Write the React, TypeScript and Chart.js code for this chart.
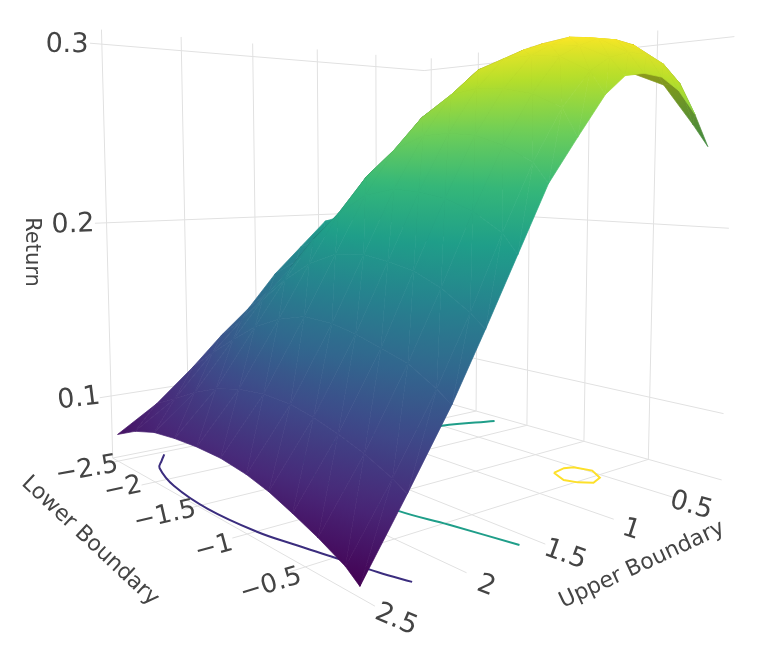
import React, { useEffect, useRef } from "react";
import { Chart, registerables } from "chart.js";

Chart.register(...registerables);

// ---------- data ----------
const LOWER = [-2.5, -2.25, -2, -1.75, -1.5, -1.25, -1, -0.8, -0.6, -0.4, -0.2, -0.1];
const UPPER = [0.12, 0.25, 0.4, 0.55, 0.7, 0.85, 1, 1.2, 1.4, 1.6, 1.8, 2, 2.25, 2.5];
// rows follow UPPER, columns follow LOWER
const RETURN_0 = [0.178, 0.184, 0.192, 0.21, 0.238, 0.268, 0.284, 0.287, 0.284, 0.277, 0.255, 0.243];
const RETURN_1 = [0.187, 0.19, 0.199, 0.2168, 0.2444, 0.2697, 0.287, 0.2933, 0.295, 0.289, 0.276, 0.2596];
const RETURN_2 = [0.193, 0.197, 0.204, 0.2225, 0.2498, 0.2749, 0.292, 0.2983, 0.3, 0.2965, 0.285, 0.271];
const RETURN_3 = [0.196, 0.1995, 0.206, 0.2242, 0.2513, 0.2761, 0.2931, 0.2993, 0.301, 0.298, 0.289, 0.277];
const RETURN_4 = [0.197, 0.2, 0.206, 0.2225, 0.2498, 0.2749, 0.292, 0.2983, 0.3, 0.2975, 0.289, 0.278];
const RETURN_5 = [0.199, 0.2, 0.205, 0.2211, 0.248, 0.2726, 0.2883, 0.2939, 0.295, 0.293, 0.2855, 0.276];
const RETURN_6 = [0.196, 0.198, 0.2035, 0.2202, 0.2479, 0.2701, 0.284, 0.2884, 0.2885, 0.2865, 0.278, 0.2664];
const RETURN_7 = [0.18, 0.187, 0.198, 0.2159, 0.2404, 0.2587, 0.27, 0.272, 0.271, 0.2675, 0.26, 0.246];
const RETURN_8 = [0.164, 0.174, 0.188, 0.2063, 0.2268, 0.241, 0.2481, 0.249, 0.2475, 0.2425, 0.2345, 0.225];
const RETURN_9 = [0.144, 0.157, 0.1736, 0.1914, 0.2069, 0.2173, 0.221, 0.22, 0.2175, 0.212, 0.203, 0.194];
const RETURN_10 = [0.129, 0.141, 0.1559, 0.1696, 0.1805, 0.1873, 0.189, 0.187, 0.184, 0.178, 0.169, 0.163];
const RETURN_11 = [0.112, 0.124, 0.135, 0.1456, 0.1526, 0.157, 0.1565, 0.154, 0.15, 0.146, 0.138, 0.133];
const RETURN_12 = [0.093, 0.1005, 0.1085, 0.115, 0.119, 0.121, 0.1205, 0.118, 0.1145, 0.11, 0.104, 0.1];
const RETURN_13 = [0.079, 0.086, 0.0905, 0.0925, 0.0935, 0.0935, 0.0915, 0.0885, 0.084, 0.079, 0.073, 0.068];
const RETURN_ROWS = [RETURN_0, RETURN_1, RETURN_2, RETURN_3, RETURN_4, RETURN_5, RETURN_6, RETURN_7, RETURN_8, RETURN_9, RETURN_10, RETURN_11, RETURN_12, RETURN_13];

const CONTOUR_LOW_LOWER = [-2.45, -2.34, -2.22, -1.87, -1.43, -1, -0.75, -0.49, -0.25, -0.08];
const CONTOUR_LOW_UPPER = [2.23, 2.3, 2.37, 2.45, 2.48, 2.45, 2.4, 2.34, 2.29, 2.24];
const CONTOUR_MID_LOWER = [-1.72, -1.86, -1.95, -2, -1.8, -1.3, -0.78, -0.47, -0.07];
const CONTOUR_MID_UPPER = [0.14, 0.5, 0.9, 1.3, 1.65, 1.78, 1.75, 1.68, 1.6];
const CONTOUR_TOP_LOWER = [-0.69, -0.71, -0.685, -0.575, -0.464, -0.43, -0.49, -0.567, -0.69];
const CONTOUR_TOP_UPPER = [0.677, 0.568, 0.513, 0.477, 0.544, 0.64, 0.702, 0.732, 0.677];

const Z_TICKS = [0.1, 0.2, 0.3];
const LOWER_TICKS = [-2.5, -2, -1.5, -1, -0.5];
const UPPER_TICKS = [0.5, 1, 1.5, 2, 2.5];
const Z_TICK_TEXT = ["0.1", "0.2", "0.3"];
const LOWER_TICK_TEXT = ["\u22122.5", "\u22122", "\u22121.5", "\u22121", "\u22120.5"];
const UPPER_TICK_TEXT = ["0.5", "1", "1.5", "2", "2.5"];

// ---------- box and camera ----------
const Z_FLOOR = 0.0634;
const Z_TOP = 0.308;
const L_MIN = -2.58;
const L_END = 0;
const U_MIN = 0.05;
const U_END = 2.58;
const U_BOX = 2.5;
const Z_MIN = 0.068;
const Z_MAX = 0.301;
const UNDERSIDE = 0.68;

// [lower, upper, return, screenX, screenY] calibration of the camera
const CAMERA_ANCHORS = [
  [L_MIN, 2.5, Z_FLOOR, 113, 457],
  [L_MIN, 2.5, 0.1, 111, 393],
  [L_MIN, 2.5, 0.2, 108, 222],
  [L_MIN, 2.5, 0.3, 101, 45],
  [L_MIN, 2, Z_FLOOR, 188, 443],
  [L_MIN, 2, 0.3, 181, 51],
  [-2.5, 0.05, Z_FLOOR, 431, 400],
  [-2.5, 0.05, 0.3, 430, 70],
  [-2, 0.05, Z_FLOOR, 476, 412],
  [-1.5, 0.05, Z_FLOOR, 527, 425],
  [-1, 0.05, Z_FLOOR, 585, 442],
  [-0.5, 0.05, Z_FLOOR, 652, 460],
  [-0.5, 0.05, 0.3, 659, 45],
  [0, 0.05, Z_FLOOR, 720, 478],
  [0, 0.05, 0.1, 723, 408],
  [0, 0.05, 0.3, 735, 37],
  [0, 0.5, Z_FLOOR, 670, 498],
  [0, 1, Z_FLOOR, 612, 521],
  [0, 1.5, Z_FLOOR, 545, 545],
  [0, 2, Z_FLOOR, 467, 575],
  [0, 2.5, Z_FLOOR, 377, 608],
];

const nx = (l: number) => (l + 1.3) / 1.3;
const ny = (u: number) => (u - 1.3) / 1.2;
const nz = (z: number) => (z - 0.18) / 0.12;

function solveCamera(): number[] {
  const n = 11;
  const M = Array.from({ length: n }, () => new Array(n + 1).fill(0));
  const add = (row: number[], b: number) => {
    for (let i = 0; i < n; i++) {
      for (let j = 0; j < n; j++) M[i][j] += row[i] * row[j];
      M[i][n] += row[i] * b;
    }
  };
  for (const [l, u, z, sx, sy] of CAMERA_ANCHORS) {
    const X = nx(l), Y = ny(u), Z = nz(z);
    const a = (sx - 380) / 380, b = (sy - 330) / 380;
    add([X, Y, Z, 1, 0, 0, 0, 0, -a * X, -a * Y, -a * Z], a);
    add([0, 0, 0, 0, X, Y, Z, 1, -b * X, -b * Y, -b * Z], b);
  }
  for (let c = 0; c < n; c++) {
    let p = c;
    for (let r = c + 1; r < n; r++) if (Math.abs(M[r][c]) > Math.abs(M[p][c])) p = r;
    [M[c], M[p]] = [M[p], M[c]];
    for (let r = 0; r < n; r++) {
      if (r === c) continue;
      const f = M[r][c] / M[c][c];
      for (let k = c; k <= n; k++) M[r][k] -= f * M[c][k];
    }
  }
  return M.map((row, i) => row[n] / row[i]);
}

const CAM = solveCamera();
function depth(l: number, u: number, z: number) {
  return CAM[8] * nx(l) + CAM[9] * ny(u) + CAM[10] * nz(z) + 1;
}
function project(l: number, u: number, z: number) {
  const X = nx(l), Y = ny(u), Z = nz(z);
  const w = depth(l, u, z);
  return {
    x: ((CAM[0] * X + CAM[1] * Y + CAM[2] * Z + CAM[3]) / w) * 380 + 380,
    y: ((CAM[4] * X + CAM[5] * Y + CAM[6] * Z + CAM[7]) / w) * 380 + 330,
  };
}

// ---------- colour ----------
const VIRIDIS = ["#440154", "#482878", "#3e4989", "#31688e", "#26828e", "#1f9e89", "#35b779", "#6ece58", "#b5de2b", "#fde725"];
const RGB = VIRIDIS.map((h) => [1, 3, 5].map((i) => parseInt(h.slice(i, i + 2), 16)));
function viridis(z: number, shade: number) {
  const t = Math.min(1, Math.max(0, (z - Z_MIN) / (Z_MAX - Z_MIN))) * (RGB.length - 1);
  const i = Math.min(RGB.length - 2, Math.floor(t));
  const f = t - i;
  const c = RGB[i].map((v, k) => Math.round((v + (RGB[i + 1][k] - v) * f) * shade));
  return `rgb(${c[0]},${c[1]},${c[2]})`;
}

type V = { l: number; u: number; z: number };

function triangleDatasets() {
  const tris: { v: V[]; d: number }[] = [];
  for (let j = 0; j < UPPER.length - 1; j++) {
    for (let i = 0; i < LOWER.length - 1; i++) {
      const g = (a: number, b: number): V => ({ l: LOWER[a], u: UPPER[b], z: RETURN_ROWS[b][a] });
      const p = g(i, j), q = g(i + 1, j), r = g(i + 1, j + 1), s = g(i, j + 1);
      for (const v of [[p, q, r], [p, r, s]]) {
        const d = v.reduce((acc, a) => acc + depth(a.l, a.u, a.z), 0) / 3;
        tris.push({ v, d });
      }
    }
  }
  tris.sort((a, b) => b.d - a.d); // farthest first
  return tris.map((t, idx) => {
    const pts = t.v.map((a) => project(a.l, a.u, a.z));
    const fl = t.v.map((a) => project(a.l, a.u, Z_FLOOR));
    const area = (p: { x: number; y: number }[]) =>
      (p[1].x - p[0].x) * (p[2].y - p[0].y) - (p[2].x - p[0].x) * (p[1].y - p[0].y);
    const shade = area(pts) * area(fl) < 0 ? UNDERSIDE : 1;
    const paint = (c: any) => {
      const zs = t.v.map((a) => a.z);
      const lo = zs.indexOf(Math.min(...zs));
      const zLo = zs[lo], zHi = Math.max(...zs);
      const det = area(pts);
      if (zHi - zLo < 1e-6 || Math.abs(det) < 1e-6) return viridis(zLo, shade);
      const dz1 = zs[1] - zs[0], dz2 = zs[2] - zs[0];
      const a = (dz1 * (pts[2].y - pts[0].y) - dz2 * (pts[1].y - pts[0].y)) / det;
      const b = (dz2 * (pts[1].x - pts[0].x) - dz1 * (pts[2].x - pts[0].x)) / det;
      const k = (zHi - zLo) / (a * a + b * b);
      const grad = c.chart.ctx.createLinearGradient(pts[lo].x, pts[lo].y, pts[lo].x + a * k, pts[lo].y + b * k);
      for (let s = 0; s <= 6; s++) grad.addColorStop(s / 6, viridis(zLo + ((zHi - zLo) * s) / 6, shade));
      return grad;
    };
    return {
      type: "line",
      data: [...pts, pts[0]],
      fill: "shape",
      backgroundColor: paint,
      borderColor: paint,
      borderWidth: 0.7,
      pointRadius: 0,
      tension: 0,
      order: tris.length - idx,
    } as any;
  });
}

function gridLine(a: number[], b: number[]) {
  return {
    type: "line",
    data: [project(a[0], a[1], a[2]), project(b[0], b[1], b[2])],
    borderColor: "#e1e1e1",
    borderWidth: 1,
    pointRadius: 0,
    fill: false,
    order: 100000,
  } as any;
}

function gridDatasets() {
  const out: any[] = [];
  for (const z of Z_TICKS) {
    out.push(gridLine([L_MIN, 2.57, z], [L_MIN, U_MIN, z]));
    out.push(gridLine([L_MIN, U_MIN, z], [L_END, U_MIN, z]));
  }
  for (const u of UPPER_TICKS) {
    out.push(gridLine([L_MIN, u, Z_FLOOR], [L_MIN, u, Z_TOP]));
    out.push(gridLine([L_MIN, u, Z_FLOOR], [L_END, u, Z_FLOOR]));
  }
  for (const l of LOWER_TICKS) {
    out.push(gridLine([l, U_MIN, Z_FLOOR], [l, U_MIN, Z_TOP]));
    out.push(gridLine([l, U_MIN, Z_FLOOR], [l, U_END, Z_FLOOR]));
  }
  out.push(gridLine([L_MIN, U_MIN, Z_FLOOR], [L_END, U_MIN, Z_FLOOR]));
  out.push(gridLine([L_MIN, U_BOX, Z_FLOOR], [L_MIN, U_MIN, Z_FLOOR]));
  return out;
}

function contour(ls: number[], us: number[], color: string, tension: number) {
  return {
    type: "line",
    data: ls.map((l, i) => project(l, us[i], Z_FLOOR)),
    borderColor: color,
    borderWidth: 2,
    pointRadius: 0,
    tension,
    fill: false,
    order: 50000,
  } as any;
}

// ---------- text layout: [centreX, centreY, rotationDeg] ----------
const FONT = '"DejaVu Sans", sans-serif';
const Z_LABEL_LAYOUT = [[79, 399, -7], [73, 225, -2], [67, 45, 1]];
const LOWER_LABEL_LAYOUT = [[87, 470, -10], [123, 489, -12], [165, 516, -13], [214, 548, -15], [271, 585, -17]];
const UPPER_LABEL_LAYOUT = [[691, 506, 16], [631, 530, 18], [565, 555, 20], [486, 586, 21], [396, 620, 23]];

const labelPlugin = {
  id: "labels3d",
  afterDatasetsDraw(chart: any) {
    const { ctx, scales } = chart;
    const put = (t: string, x: number, y: number, rot: number, size: number) => {
      ctx.save();
      ctx.translate(scales.x.getPixelForValue(x), scales.y.getPixelForValue(y));
      ctx.rotate((rot * Math.PI) / 180);
      ctx.font = `${size}px ${FONT}`;
      ctx.fillStyle = "#444444";
      ctx.textAlign = "center";
      ctx.textBaseline = "middle";
      ctx.fillText(t, 0, 0);
      ctx.restore();
    };
    Z_TICK_TEXT.forEach((t, i) => put(t, Z_LABEL_LAYOUT[i][0], Z_LABEL_LAYOUT[i][1], Z_LABEL_LAYOUT[i][2], 27));
    LOWER_TICK_TEXT.forEach((t, i) => put(t, LOWER_LABEL_LAYOUT[i][0], LOWER_LABEL_LAYOUT[i][1], LOWER_LABEL_LAYOUT[i][2], 26));
    UPPER_TICK_TEXT.forEach((t, i) => put(t, UPPER_LABEL_LAYOUT[i][0], UPPER_LABEL_LAYOUT[i][1], UPPER_LABEL_LAYOUT[i][2], 27));
    put("Return", 31, 252, 90, 21);
    put("Lower Boundary", 90, 541, 43, 22);
    put("Upper Boundary", 642, 565, -25, 22);
  },
};

export default function App() {
  const ref = useRef<HTMLCanvasElement | null>(null);
  useEffect(() => {
    if (!ref.current) return;
    const chart = new Chart(ref.current, {
      type: "line",
      data: {
        datasets: [
          ...gridDatasets(),
          contour(CONTOUR_LOW_LOWER, CONTOUR_LOW_UPPER, "#3b2d7e", 0.4),
          contour(CONTOUR_MID_LOWER, CONTOUR_MID_UPPER, "#1f9e89", 0.4),
          contour(CONTOUR_TOP_LOWER, CONTOUR_TOP_UPPER, "#fde02a", 0),
          ...triangleDatasets(),
        ],
      },
      options: {
        responsive: false,
        animation: false,
        events: [],
        layout: { padding: 0 },
        plugins: { legend: { display: false }, tooltip: { enabled: false } },
        scales: {
          x: { type: "linear", display: false, min: 0, max: 761 },
          y: { type: "linear", display: false, min: 0, max: 664, reverse: true },
        },
      },
      plugins: [labelPlugin],
    } as any);
    return () => chart.destroy();
  }, []);
  return (
    <div style={{ position: "absolute", left: 0, top: 0, width: 761, height: 664, background: "#fff" }}>
      <canvas ref={ref} width={761} height={664} style={{ display: "block" }} />
    </div>
  );
}
